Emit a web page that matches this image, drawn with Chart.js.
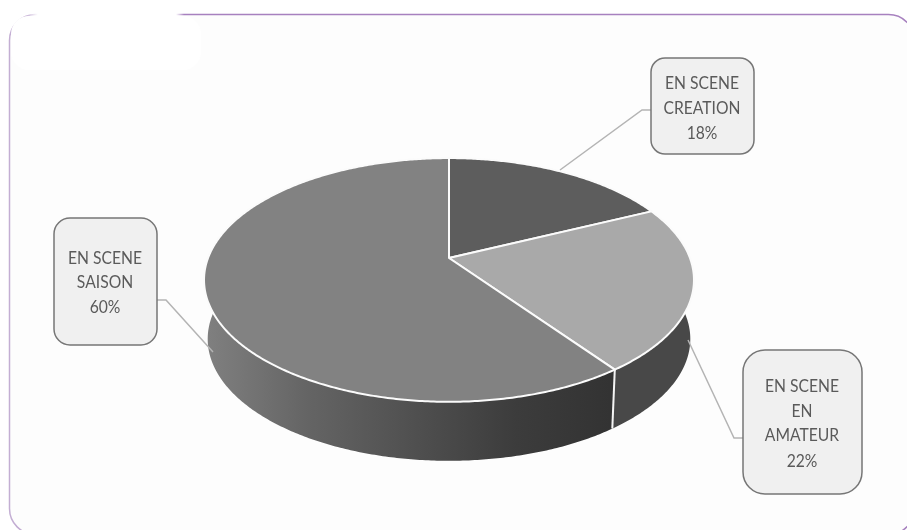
<!DOCTYPE html>
<html>
<head>
<meta charset="utf-8">
<title>EN SCENE</title>
<script src="https://cdn.jsdelivr.net/npm/chart.js@4"></script>
<style>
  html, body { margin: 0; padding: 0; background: #fff; }
  canvas { display: block; }
</style>
</head>
<body>
<canvas id="chart" width="907" height="530"></canvas>
<script>
const categories = ["EN SCENE CREATION", "EN SCENE EN AMATEUR", "EN SCENE SAISON"];
const shares = [18, 22, 60];
const labelLines = [["EN SCENE", "CREATION"], ["EN SCENE", "EN", "AMATEUR"], ["EN SCENE", "SAISON"]];
const topColors = ["#5d5d5d", "#a9a9a9", "#828282"];

// Callout boxes and their leader lines, same order as categories
const callouts = [
  { x: 651, y: 58, w: 103, h: 96, r: 14, cx: 702, lineY: [83, 108, 133], leader: [[651, 110], [642, 110], [560, 170]] },
  { x: 743, y: 350, w: 119, h: 144, r: 22, cx: 802, lineY: [386, 411, 435, 461], leader: [[743, 438], [734, 438], [688, 340]] },
  { x: 54, y: 218, w: 103, h: 127, r: 16, cx: 105, lineY: [258, 282, 307], leader: [[157, 300], [166, 300], [213, 352]] },
];

// Tilted disc: the pie is seen in perspective, so the hub sits above the rim's middle
const TILT = -0.18;
const SQUASH_X = 0.934;
const SQUASH_Y = 0.457;
const WALL_DEPTH = 59;
const WALL_SHRINK = 0.985;

function project(arc, angle, bottom) {
  const w = 1 + TILT * Math.sin(angle);
  const k = bottom ? WALL_SHRINK : 1;
  return [
    arc.x + arc.outerRadius * SQUASH_X * k * Math.cos(angle) / w,
    arc.y + arc.outerRadius * SQUASH_Y * Math.sin(angle) / w + (bottom ? WALL_DEPTH : 0),
  ];
}

function rimPoints(arc, bottom) {
  const pts = [];
  const steps = Math.max(2, Math.ceil((arc.endAngle - arc.startAngle) / 0.01));
  for (let i = 0; i <= steps; i++) {
    pts.push(project(arc, arc.startAngle + (arc.endAngle - arc.startAngle) * i / steps, bottom));
  }
  return pts;
}

function tracePoly(ctx, pts) {
  ctx.beginPath();
  pts.forEach((p, i) => (i ? ctx.lineTo(p[0], p[1]) : ctx.moveTo(p[0], p[1])));
  ctx.closePath();
}

const framePlugin = {
  id: "frame",
  beforeDraw(chart) {
    const { ctx } = chart;
    ctx.save();
    ctx.fillStyle = "#fff";
    ctx.fillRect(0, 0, 907, 530);
    ctx.beginPath();
    ctx.roundRect(9.5, 14.5, 905, 520, 26);
    ctx.fillStyle = "#fdfdfd";
    ctx.fill();
    // border is paler down the left side
    const border = ctx.createLinearGradient(9, 0, 180, 0);
    border.addColorStop(0, "#c3aed3");
    border.addColorStop(1, "#a781bf");
    ctx.strokeStyle = border;
    ctx.lineWidth = 1.5;
    ctx.stroke();
    // soft white tab over the top-left corner
    ctx.beginPath();
    ctx.roundRect(11, 16, 190, 54, 18);
    ctx.fillStyle = "#fff";
    ctx.fill();
    const fade = ctx.createLinearGradient(25, 0, 184, 0);
    fade.addColorStop(0, "rgba(255,255,255,0)");
    fade.addColorStop(0.08, "#fff");
    fade.addColorStop(0.95, "#fff");
    fade.addColorStop(1, "rgba(255,255,255,0)");
    ctx.fillStyle = fade;
    ctx.fillRect(25, 12, 159, 5);
    ctx.restore();
  },
};

const discPlugin = {
  id: "disc",
  beforeDatasetsDraw(chart) {
    const { ctx } = chart;
    const arcs = chart.getDatasetMeta(0).data;
    ctx.save();

    // side wall first: long slice, then the short one in front of it
    const saisonWall = ctx.createLinearGradient(205, 0, 620, 0);
    saisonWall.addColorStop(0, "#808080");
    saisonWall.addColorStop(0.25, "#646464");
    saisonWall.addColorStop(0.5, "#505050");
    saisonWall.addColorStop(0.75, "#3c3c3c");
    saisonWall.addColorStop(1, "#323232");
    const wallFills = [null, "#484848", saisonWall];
    [2, 1].forEach(i => {
      tracePoly(ctx, rimPoints(arcs[i], false).concat(rimPoints(arcs[i], true).reverse()));
      ctx.fillStyle = wallFills[i];
      ctx.fill();
    });

    // white seam where the two visible wall pieces meet
    const seamTop = project(arcs[1], arcs[1].endAngle, false);
    const seamBottom = project(arcs[1], arcs[1].endAngle, true);
    ctx.beginPath();
    ctx.moveTo(seamTop[0], seamTop[1]);
    ctx.lineTo(seamBottom[0], seamBottom[1]);
    ctx.strokeStyle = "#f4f4f4";
    ctx.lineWidth = 2;
    ctx.stroke();

    // top face
    ctx.lineJoin = "round";
    arcs.forEach(arc => {
      tracePoly(ctx, [[arc.x, arc.y]].concat(rimPoints(arc, false)));
      ctx.fillStyle = arc.options.backgroundColor;
      ctx.fill();
      ctx.strokeStyle = "#fbfbfb";
      ctx.lineWidth = 2;
      ctx.stroke();
    });
    ctx.restore();
    return false;
  },
};

const calloutPlugin = {
  id: "callouts",
  afterDraw(chart) {
    const { ctx } = chart;
    ctx.save();
    callouts.forEach((c, i) => {
      ctx.beginPath();
      c.leader.forEach((p, j) => (j ? ctx.lineTo(p[0], p[1]) : ctx.moveTo(p[0], p[1])));
      ctx.strokeStyle = "#b4b4b4";
      ctx.lineWidth = 1.5;
      ctx.stroke();

      ctx.beginPath();
      ctx.roundRect(c.x, c.y, c.w, c.h, c.r);
      ctx.fillStyle = "#f0f0f0";
      ctx.fill();
      ctx.strokeStyle = "#767676";
      ctx.lineWidth = 1.5;
      ctx.stroke();

      // tall, narrow lettering: Lato squeezed a little sideways
      ctx.fillStyle = "#5a5a5a";
      ctx.font = "18px Lato, sans-serif";
      ctx.textAlign = "center";
      ctx.textBaseline = "middle";
      labelLines[i].concat(shares[i] + "%").forEach((line, j) => {
        ctx.save();
        ctx.translate(c.cx, c.lineY[j]);
        ctx.scale(0.87, 1);
        ctx.fillText(line, 0, 0);
        ctx.restore();
      });
    });
    ctx.restore();
  },
};

new Chart(document.getElementById("chart"), {
  type: "pie",
  data: {
    labels: categories,
    datasets: [{ data: shares, backgroundColor: topColors, borderWidth: 0 }],
  },
  options: {
    responsive: false,
    animation: false,
    layout: { padding: { left: 0, right: 9, top: 0, bottom: 14 } },
    plugins: { legend: { display: false }, tooltip: { enabled: false } },
  },
  plugins: [framePlugin, discPlugin, calloutPlugin],
});
</script>
</body>
</html>
